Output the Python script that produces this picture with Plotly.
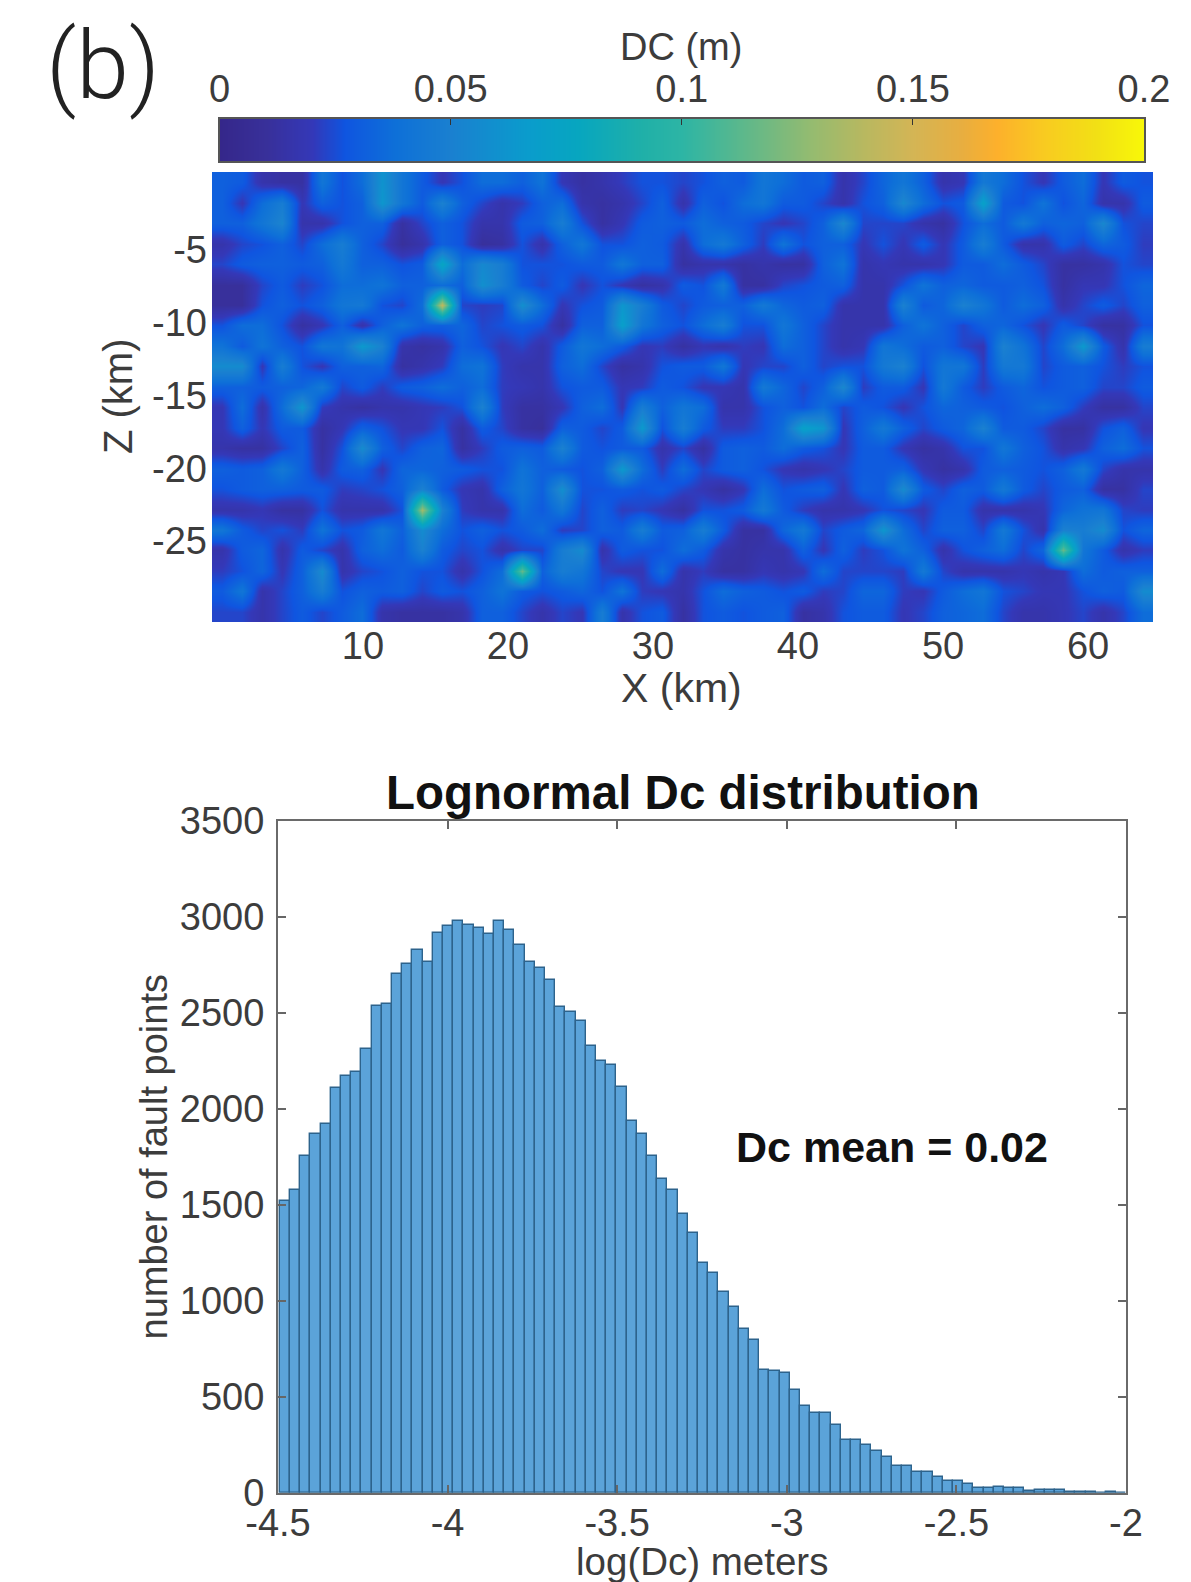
import numpy as np
import plotly.graph_objects as go

W, H = 1191, 1582

# ---------- DC field (47 columns, 22 rows, top row first)
# unit of one step: DC_STEP metres
DC_STEP = 0.00105
dc_rows = [
 [30,28,15,12,12,40,25,35,58,40,28,18,25,35,35,30,38,18,12,15,20,25,25,22,25,30,28,40,35,28,30,15,22,32,40,30,15,18,42,35,25,18,28,35,18,28,25],
 [30,18,35,45,18,30,25,30,60,40,28,48,30,22,15,20,30,35,15,12,15,22,30,15,30,25,35,40,28,28,22,15,25,30,52,35,25,28,68,28,25,38,25,32,15,15,28],
 [30,30,40,50,15,15,25,30,30,12,22,30,25,15,15,28,30,45,25,12,18,28,30,28,35,30,28,22,18,22,30,52,22,22,22,15,12,25,35,28,42,30,32,30,52,25,22],
 [15,22,25,30,22,35,45,30,22,10,15,30,25,10,12,25,15,30,40,25,25,30,28,15,35,42,30,20,38,25,30,30,18,25,18,28,18,28,45,28,15,15,28,22,32,28,20],
 [22,28,30,30,28,30,42,30,30,25,28,72,35,52,45,25,25,25,28,28,40,30,30,12,15,15,12,15,12,12,30,38,15,18,15,15,18,28,28,35,28,22,12,12,15,25,22],
 [10,10,22,28,20,25,35,35,38,30,30,35,30,56,45,28,22,28,18,25,18,12,15,28,25,42,12,12,22,25,28,30,15,15,25,38,30,32,28,28,30,25,12,18,18,25,32],
 [10,10,25,30,25,30,40,42,25,22,35,135,22,20,22,56,35,18,25,28,60,45,28,22,28,30,30,42,32,28,30,15,15,15,48,28,32,48,40,28,35,30,15,22,28,22,30],
 [25,35,35,25,12,18,30,15,30,38,30,30,32,22,25,28,25,12,30,30,66,40,30,25,35,45,25,25,40,30,22,15,15,15,30,38,30,22,30,32,25,18,28,22,12,12,25],
 [38,28,38,30,25,40,38,62,48,15,12,15,30,25,18,22,15,28,40,35,28,18,20,12,18,15,20,18,35,30,22,15,18,40,35,28,30,22,18,48,38,22,35,62,28,15,45],
 [54,54,18,45,25,18,30,30,32,12,15,20,35,38,20,15,15,30,35,22,12,15,25,28,28,40,18,22,22,30,22,25,25,42,48,25,40,40,20,42,42,22,28,30,25,20,25],
 [30,30,28,30,32,42,22,28,20,28,30,35,30,35,20,18,15,25,28,28,18,20,28,25,18,18,15,42,32,22,30,52,20,28,28,18,42,28,20,28,32,25,28,30,22,22,28],
 [18,35,15,35,60,20,15,12,15,15,18,20,25,48,20,12,12,18,30,35,18,45,30,40,35,15,15,25,30,25,35,22,28,25,18,25,32,30,28,25,30,35,30,20,12,12,22],
 [18,30,18,28,28,12,18,30,25,18,18,25,12,28,22,12,10,30,28,22,28,62,25,45,28,20,20,25,35,68,60,18,30,42,30,22,28,32,48,28,28,22,12,12,25,30,18],
 [15,12,12,22,30,12,25,54,30,22,30,32,12,20,28,30,28,48,28,25,28,28,15,22,12,28,30,28,35,28,25,18,28,28,18,12,15,25,25,40,30,25,15,18,30,35,25],
 [30,28,30,42,30,15,28,30,18,32,32,30,28,25,25,38,30,28,25,30,62,35,20,35,22,28,30,25,18,15,18,22,28,28,30,18,12,15,28,30,28,25,30,42,22,15,15],
 [25,28,30,30,28,28,20,22,25,30,48,28,18,15,30,40,30,56,25,25,28,25,28,22,18,12,18,35,25,28,30,18,30,28,54,28,22,30,28,42,28,22,28,30,12,12,22],
 [15,15,18,12,12,25,15,15,15,25,125,48,20,15,15,35,28,40,22,30,20,22,18,12,25,25,28,42,28,20,15,15,18,25,22,18,28,28,15,15,15,18,32,38,40,22,20],
 [40,28,22,25,20,38,25,28,40,30,54,35,25,30,25,28,35,20,22,30,28,45,28,30,45,28,12,12,32,42,22,28,32,60,35,22,30,30,22,42,25,15,48,45,54,25,32],
 [15,28,32,15,28,22,15,30,35,28,48,28,22,25,15,22,22,45,54,15,28,25,25,35,28,15,12,15,15,30,18,30,20,25,38,30,15,25,30,35,22,32,110,40,28,15,20],
 [20,25,32,18,30,54,15,22,25,30,25,25,15,25,35,110,30,45,40,22,18,18,35,15,20,12,12,18,15,18,35,22,22,22,20,42,22,15,15,15,18,15,18,35,28,30,30],
 [28,40,15,22,30,45,25,30,28,30,22,28,25,30,38,28,25,28,32,25,38,20,18,15,25,35,30,28,25,28,20,22,32,32,20,18,28,35,40,25,22,18,18,25,30,28,54],
 [22,22,15,22,28,22,28,35,15,12,12,12,15,30,30,22,15,22,18,45,15,25,28,12,25,28,25,28,30,12,15,25,28,28,18,22,30,32,35,22,15,15,18,22,15,22,35],
]

# colour bar
cbar_min, cbar_max = 0.0, 0.2
cbar_ticks = [0, 0.05, 0.1, 0.15, 0.2]
cbar_labels = ["0", "0.05", "0.1", "0.15", "0.2"]
colour_stops = [
 (0.00, "#35278a"), (0.05, "#38309a"), (0.10, "#3438b8"), (0.135, "#0f55e0"),
 (0.19, "#0e70d8"), (0.25, "#1a80d0"), (0.333, "#0a9ccc"), (0.387, "#07a6c0"),
 (0.458, "#20b0a8"), (0.50, "#2db5a5"), (0.57, "#60b88a"), (0.64, "#95bb70"),
 (0.696, "#b8b860"), (0.75, "#d4b555"), (0.803, "#e8ae40"), (0.84, "#fdb02c"),
 (0.894, "#f8cc20"), (0.948, "#f2e015"), (1.00, "#f8f808"),
]

x_ticks = [10, 20, 30, 40, 50, 60]
z_ticks = [-5, -10, -15, -20, -25]
z_labels = ["-5", "-10", "-15", "-20", "-25"]
x_range = [-0.41, 64.48]
z_range = [-30.57, 0.36]

# ---------- histogram, bar heights
hist_counts = [
 1520,1577,1757,1869,1921,2108,2172,2191,2311,2536,2546,2702,2754,2830,2763,2917,
 2955,2977,2958,2945,2913,2979,2934,2853,2765,2733,2671,2532,2507,2460,2329,2250,
 2227,2116,1939,1867,1756,1636,1577,1450,1355,1195,1143,1046,969,851,796,639,
 636,622,535,452,414,414,351,275,275,248,217,188,139,139,108,109,
 80,59,59,45,26,24,28,23,26,10,12,14,14,5,3,2,1,2,1,
]
hist_first_centre = -4.4797
hist_bin_width = 0.03007
hist_x_ticks = [-4.5, -4, -3.5, -3, -2.5, -2]
hist_x_labels = ["-4.5", "-4", "-3.5", "-3", "-2.5", "-2"]
hist_y_ticks = [0, 500, 1000, 1500, 2000, 2500, 3000, 3500]

FONT = "Liberation Sans, Arial, sans-serif"
TXT = "#3c3c3c"

def hspan(a, b):
    return [a / W, b / W]

def vspan(top, bottom):
    return [1 - bottom / H, 1 - top / H]

dc_values = np.array(dc_rows, dtype=float) * DC_STEP
n_rows, n_cols = dc_values.shape
cell_x = (x_range[1] - x_range[0]) / n_cols
cell_z = (z_range[1] - z_range[0]) / n_rows
col_x = x_range[0] + cell_x * (np.arange(n_cols) + 0.5)
row_z = z_range[1] - cell_z * (np.arange(n_rows) + 0.5)

fig = go.Figure()
fig.add_trace(go.Heatmap(
    z=dc_values, x=col_x, y=row_z, zmin=cbar_min, zmax=cbar_max,
    colorscale=[list(s) for s in colour_stops], zsmooth="best", showscale=False,
    xaxis="x", yaxis="y"))
ramp = np.linspace(cbar_min, cbar_max, 129)
fig.add_trace(go.Heatmap(
    z=[ramp], x=ramp, y=[0], zmin=cbar_min, zmax=cbar_max,
    colorscale=[list(s) for s in colour_stops], zsmooth="best", showscale=False,
    xaxis="x2", yaxis="y2"))
fig.add_trace(go.Bar(
    x0=hist_first_centre, dx=hist_bin_width, y=hist_counts,
    marker=dict(color="#5ba3d9", line=dict(color="#2d638c", width=1.4)),
    xaxis="x3", yaxis="y3"))

tick_font = dict(family=FONT, size=38, color=TXT)

def text_note(text, px, py, size, color=TXT, family=FONT, weight=None, angle=0):
    return dict(text=text, xref="paper", yref="paper", x=px / W, y=1 - py / H,
                showarrow=False, xanchor="center", yanchor="middle", textangle=angle,
                font=dict(family=family, size=size, color=color, weight=weight))

fig.update_layout(
    template="none",
    width=W, height=H, margin=dict(l=0, r=0, t=0, b=0, autoexpand=False),
    paper_bgcolor="white", plot_bgcolor="white", showlegend=False, bargap=0,
    font=dict(family=FONT, color=TXT),
    xaxis=dict(domain=hspan(212, 1153), range=x_range, anchor="y", automargin=False,
               tickmode="array", tickvals=x_ticks, ticks="", showgrid=False, zeroline=False,
               tickfont=tick_font, showline=False, ticklabelstandoff=-2),
    yaxis=dict(domain=vspan(172, 622), range=z_range, anchor="x", automargin=False,
               tickmode="array", tickvals=z_ticks, ticktext=z_labels, ticks="", showgrid=False, zeroline=False,
               tickfont=tick_font, showline=False, ticklabelstandoff=4),
    xaxis2=dict(domain=hspan(219.5, 1144), range=[cbar_min, cbar_max], anchor="y2", side="top", automargin=False,
                tickmode="array", tickvals=cbar_ticks, ticktext=cbar_labels,
                ticks="inside", ticklen=6, tickcolor="#333333", tickwidth=1,
                showgrid=False, zeroline=False, tickfont=tick_font,
                showline=True, linecolor="#555555", linewidth=2, mirror=True,
                ticklabelstandoff=-1),
    yaxis2=dict(domain=vspan(118.5, 161), range=[-0.5, 0.5], anchor="x2", automargin=False,
                showticklabels=False, ticks="", showgrid=False, zeroline=False,
                showline=True, linecolor="#555555", linewidth=2, mirror=True),
    xaxis3=dict(domain=hspan(278, 1126), range=[-4.5, -2], anchor="y3", automargin=False,
                tickmode="array", tickvals=hist_x_ticks, ticktext=hist_x_labels,
                ticks="inside", ticklen=8, tickcolor="#666666", tickwidth=1.5,
                showgrid=False, zeroline=False, tickfont=tick_font,
                showline=True, linecolor="#6a6a6a", linewidth=2, mirror="ticks",
                ticklabelstandoff=-4),
    yaxis3=dict(domain=vspan(821, 1492.7), range=[0, 3500], anchor="x3", automargin=False,
                tickmode="array", tickvals=hist_y_ticks,
                ticks="inside", ticklen=8, tickcolor="#666666", tickwidth=1.5,
                showgrid=False, zeroline=False, tickfont=tick_font,
                showline=True, linecolor="#6a6a6a", linewidth=2, mirror="ticks",
                ticklabelstandoff=4),
    annotations=[
        text_note("(b)", 103, 66, 95, "#222222", "Roboto, " + FONT, 300),
        text_note("DC (m)", 681, 47, 38),
        text_note("X (km)", 681, 688, 41),
        text_note("Z (km)", 118, 396, 40, angle=-90),
        text_note("number of fault points", 153.5, 1157, 38, angle=-90),
        text_note("log(Dc) meters", 702, 1561, 38.5),
        text_note("<b>Lognormal Dc distribution</b>", 683, 792, 47.5, "#111111"),
        text_note("<b>Dc mean = 0.02</b>", 892, 1147, 43, "#111111"),
    ],
)

fig.write_html("out.html", config={"displayModeBar": False},
               post_script="document.body.style.margin='0';")
